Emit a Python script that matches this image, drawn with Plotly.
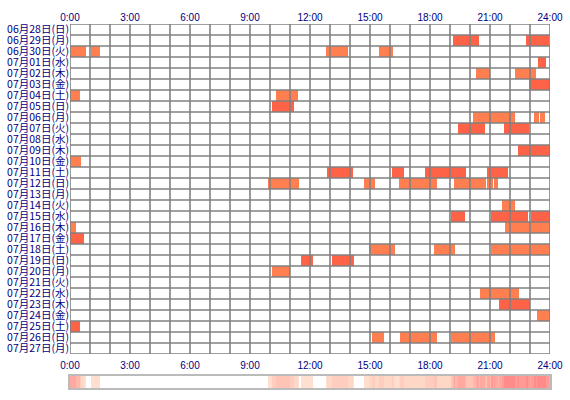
import plotly.graph_objects as go
import numpy as np

day_labels = [
    "06月28日(日)", "06月29日(月)", "06月30日(火)", "07月01日(水)", "07月02日(木)",
    "07月03日(金)", "07月04日(土)", "07月05日(日)", "07月06日(月)", "07月07日(火)",
    "07月08日(水)", "07月09日(木)", "07月10日(金)", "07月11日(土)", "07月12日(日)",
    "07月13日(月)", "07月14日(火)", "07月15日(水)", "07月16日(木)", "07月17日(金)",
    "07月18日(土)", "07月19日(日)", "07月20日(月)", "07月21日(火)", "07月22日(水)",
    "07月23日(木)", "07月24日(金)", "07月25日(土)", "07月26日(日)", "07月27日(月)",
]

# activity sessions: day index, start hour, end hour
seg_day = [1, 1,
           2, 2, 2, 2,
           3,
           4, 4,
           5,
           6, 6,
           7,
           8, 8, 8,
           9, 9,
           11,
           12,
           13, 13, 13, 13,
           14, 14, 14, 14, 14, 14,
           16,
           17, 17, 17,
           18, 18,
           19,
           20, 20, 20,
           21, 21,
           22,
           24,
           25,
           26,
           27,
           28, 28, 28]
seg_start = [19.15, 22.8,
             0.0, 1.05, 12.8, 15.45,
             23.4,
             20.3, 22.25,
             22.95,
             0.0, 10.3,
             10.1,
             20.15, 23.2, 23.5,
             19.4, 21.7,
             22.4,
             0.0,
             12.85, 16.1, 17.75, 20.85,
             9.9, 14.7, 16.45, 19.2, 20.85, 21.2,
             21.6,
             19.05, 21.05, 23.05,
             0.0, 21.75,
             0.0,
             14.95, 18.2, 21.05,
             11.55, 13.1,
             10.1,
             20.5,
             21.45,
             23.35,
             0.0,
             15.1, 16.5, 19.05]
seg_end = [20.45, 23.95,
           0.8, 1.5, 13.9, 16.15,
           23.8,
           21.0, 23.3,
           24.0,
           0.5, 11.4,
           11.2,
           22.25, 23.45, 23.75,
           20.75, 22.95,
           24.0,
           0.55,
           14.15, 16.7, 19.8, 21.9,
           11.45, 15.25, 18.35, 20.8, 21.15, 21.4,
           22.25,
           19.75, 22.9, 24.0,
           0.3, 24.0,
           0.7,
           16.25, 19.25, 24.0,
           12.15, 14.2,
           11.0,
           22.45,
           23.0,
           24.0,
           0.5,
           15.7, 18.35, 21.25]

hour_ticks = [0, 3, 6, 9, 12, 15, 18, 21, 24]
hour_labels = ["0:00", "3:00", "6:00", "9:00", "12:00", "15:00", "18:00", "21:00", "24:00"]

RED = "#FF6347"
ORANGE = "#FF7F50"
LABEL = "#000080"
GRID = "#808080"

n_days = len(day_labels)
colors = [RED if d % 2 == 1 else ORANGE for d in seg_day]
durations = [e - s for s, e in zip(seg_start, seg_end)]

fig = go.Figure()
fig.add_trace(go.Bar(
    y=seg_day, x=durations, base=seg_start, orientation="h",
    width=1.0, marker=dict(color=colors, line=dict(width=0)),
    xaxis="x", yaxis="y", showlegend=False, hoverinfo="skip",
))
# dummy trace for the top axis
fig.add_trace(go.Scatter(x=[0, 24], y=[0, 0], mode="markers",
                         marker=dict(opacity=0), xaxis="x3", yaxis="y",
                         showlegend=False, hoverinfo="skip"))

# density strip derived from sessions
bin_w = 0.05
edges = np.arange(0, 24 + 1e-9, bin_w)
centers = (edges[:-1] + edges[1:]) / 2
counts = np.zeros(len(centers))
for s, e in zip(seg_start, seg_end):
    counts += ((centers > s) & (centers < e)).astype(float)
fig.add_trace(go.Heatmap(
    x=centers, y=[0], z=[counts.tolist()], xaxis="x2", yaxis="y2",
    zmin=0, zmax=8, showscale=False, hoverinfo="skip",
    colorscale=[[0, "#FFFFFF"], [0.06, "#FFFFFF"], [0.125, "#FFE0D0"],
                [0.5, "#FFC4B6"], [1.0, "#FF8C8A"]],
))

shapes = []
for h in range(0, 25):
    shapes.append(dict(type="line", xref="x", yref="y", x0=h, x1=h,
                       y0=-0.5, y1=n_days - 0.5, layer="above",
                       line=dict(color=GRID, width=1.6)))
for r in range(0, n_days + 1):
    shapes.append(dict(type="line", xref="x", yref="y", x0=0, x1=24,
                       y0=r - 0.5, y1=r - 0.5, layer="above",
                       line=dict(color=GRID, width=1.6)))
fig.update_layout(shapes=shapes)

tick_font = dict(family="Liberation Sans, Arial, sans-serif", size=10, color=LABEL)

fig.update_layout(
    width=570, height=400,
    margin=dict(l=70, r=20, t=24, b=12, autoexpand=False),
    paper_bgcolor="white", plot_bgcolor="white",
    bargap=0,
    xaxis=dict(domain=[0, 1], range=[0, 24], tickvals=hour_ticks, ticktext=hour_labels,
               showgrid=False, zeroline=False, showline=False, ticks="",
               tickfont=tick_font, anchor="y", fixedrange=True, automargin=False,
               ticklabelstandoff=4),
    xaxis3=dict(range=[0, 24], tickvals=hour_ticks, ticktext=hour_labels,
                overlaying="x", side="top", anchor="y",
                showgrid=False, zeroline=False, showline=False, ticks="",
                tickfont=tick_font, fixedrange=True, automargin=False),
    yaxis=dict(domain=[0.0934, 1], range=[n_days - 0.5, -0.5],
               tickvals=list(range(n_days)), ticktext=day_labels,
               showgrid=False, zeroline=False, showline=False, ticks="",
               tickfont=dict(family="Noto Sans CJK JP, sans-serif", size=10.5, color=LABEL),
               fixedrange=True, automargin=False),
    xaxis2=dict(domain=[0, 1], range=[0, 24], anchor="y2", showticklabels=False,
                showgrid=False, zeroline=False, showline=True, mirror=True,
                linecolor="#BBBBBB", linewidth=2, ticks="", fixedrange=True,
                automargin=False),
    yaxis2=dict(domain=[0, 0.033], range=[-0.5, 0.5], anchor="x2", showticklabels=False,
                showgrid=False, zeroline=False, showline=True, mirror=True,
                linecolor="#BBBBBB", linewidth=2, ticks="", fixedrange=True,
                automargin=False),
)

fig.write_html("out.html")
